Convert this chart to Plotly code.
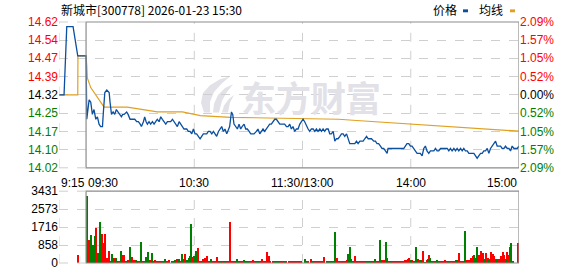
import plotly.graph_objects as go

# ---------------- data ----------------
prev_close = 14.32
pct_steps = [2.09, 1.57, 1.05, 0.52, 0.00, -0.52, -1.05, -1.57, -2.09]
price_ticks = ["14.62", "14.54", "14.47", "14.39", "14.32", "14.25", "14.17", "14.10", "14.02"]
vol_ticks = [0, 858, 1716, 2573, 3431]
time_labels = ["9:15", "09:30", "10:30", "11:30/13:00", "14:00", "15:00"]
time_minutes = [-15, 0, 60, 120, 180, 240]

# minutes relative to 09:30 (negative = call auction 9:15-9:30)
price_min = [-15, -12.2, -10.7, -7.2, -4.6, 0.0,
             0.4, 1.7, 2.6, 3.5, 4.4, 5.4, 6.3, 7.2, 8.1, 9.1, 9.6, 10.4, 11.5, 12.8, 13.3, 14.1,
             15.0, 15.9, 16.8, 17.7, 18.8, 19.6, 20.3, 21.1, 22.5, 23.3, 24.4, 25.7, 27.0, 28.1, 29.0,
             30.0, 30.7, 31.8, 32.5, 33.3, 34.0, 34.9, 35.8, 36.8, 37.7, 38.6, 39.5, 40.5, 41.4, 42.3,
             43.2, 44.2, 45.1, 46.0, 46.9, 47.9, 48.8, 49.7, 50.6, 51.6, 52.5, 53.4, 54.3, 55.8, 56.7,
             57.6, 58.6, 59.5, 60.4, 61.3, 62.3, 63.2, 64.1, 65.0, 66.0, 66.9, 67.8, 68.7, 69.7, 70.6,
             71.5, 72.4, 73.4, 74.3, 75.2, 76.1, 77.0, 78.0, 78.9, 79.6, 80.6, 81.3, 82.0, 82.8, 83.9,
             84.8, 85.7, 86.5, 87.6, 88.5, 89.4, 90.4, 91.3, 92.2, 93.1, 94.4, 95.3, 96.3, 97.2, 98.1,
             99.0, 99.9, 100.9, 101.8, 102.7, 103.7, 104.6, 105.5, 106.4, 107.4, 108.3, 109.2, 110.1,
             111.1, 112.0, 112.9, 113.8, 114.7, 115.7, 116.6, 117.5, 118.5, 119.4, 120.3, 121.2, 122.2,
             123.1, 124.0, 124.9, 125.9, 126.8, 127.7, 128.6, 129.6, 130.5, 131.4, 132.3, 133.2, 134.2,
             135.1, 136.0, 137.0, 137.9, 138.8, 139.7, 140.7, 141.6, 142.5, 143.4, 144.4, 145.3, 146.2,
             147.1, 148.1, 149.0, 149.9, 150.8, 151.8, 152.7, 153.6, 154.5, 155.5, 156.4, 157.3, 158.2,
             159.5, 160.4, 161.3, 162.2, 163.2, 164.1, 165.0, 165.9, 166.9, 167.4, 168.7, 170.5, 172.5,
             174.5, 176.1, 177.0, 177.9, 178.9, 179.8, 180.7, 181.6, 182.6, 183.5, 184.4, 185.3, 186.3,
             187.2, 188.1, 189.0, 190.0, 190.9, 191.8, 192.8, 193.7, 194.6, 195.5, 196.5, 197.4, 198.3,
             199.2, 200.2, 201.1, 202.0, 202.9, 203.9, 204.8, 205.7, 206.6, 207.6, 208.5, 209.4, 210.3,
             211.3, 212.2, 213.1, 214.0, 215.0, 215.9, 216.8, 217.7, 218.7, 219.6, 220.5, 221.4, 222.4,
             223.3, 224.2, 225.1, 226.1, 227.0, 227.9, 228.8, 229.8, 230.7, 231.6, 232.5, 233.5, 234.4,
             235.3, 236.2, 237.2, 238.1, 239.0, 240.0]
price_val = [14.32, 14.32, 14.60, 14.60, 14.48, 14.48,
             14.22, 14.30, 14.29, 14.24, 14.26, 14.22, 14.23, 14.20, 14.19, 14.19, 14.25, 14.33, 14.34, 14.33, 14.29, 14.24,
             14.25, 14.24, 14.26, 14.25, 14.24, 14.23, 14.24, 14.24, 14.25, 14.24, 14.22, 14.22, 14.22, 14.21, 14.21,
             14.20, 14.19, 14.21, 14.23, 14.21, 14.20, 14.21, 14.20, 14.21, 14.20, 14.21, 14.22, 14.21, 14.23, 14.22,
             14.21, 14.20, 14.21, 14.21, 14.21, 14.22, 14.21, 14.20, 14.19, 14.21, 14.20, 14.19, 14.18, 14.18, 14.17,
             14.17, 14.16, 14.18, 14.16, 14.16, 14.15, 14.14, 14.15, 14.16, 14.16, 14.16, 14.17, 14.17, 14.16, 14.17,
             14.16, 14.15, 14.17, 14.18, 14.19, 14.17, 14.18, 14.16, 14.18, 14.19, 14.25, 14.24, 14.20, 14.19, 14.18,
             14.20, 14.18, 14.19, 14.20, 14.18, 14.18, 14.17, 14.16, 14.16, 14.16, 14.17, 14.18, 14.16, 14.17, 14.18,
             14.17, 14.18, 14.19, 14.20, 14.20, 14.21, 14.22, 14.22, 14.21, 14.20, 14.20, 14.20, 14.20,
             14.19, 14.19, 14.20, 14.18, 14.19, 14.17, 14.18, 14.18, 14.20, 14.21, 14.22, 14.21, 14.19,
             14.18, 14.17, 14.18, 14.18, 14.17, 14.18, 14.17, 14.18, 14.17, 14.18, 14.17, 14.18, 14.18,
             14.16, 14.16, 14.17, 14.13, 14.14, 14.14, 14.15, 14.16, 14.16, 14.15, 14.16, 14.14, 14.12,
             14.12, 14.12, 14.12, 14.13, 14.12, 14.13, 14.13, 14.13, 14.14, 14.15, 14.14, 14.14, 14.14,
             14.13, 14.13, 14.12, 14.12, 14.11, 14.10, 14.10, 14.09, 14.08, 14.10, 14.10, 14.10, 14.10,
             14.10, 14.10, 14.11, 14.12, 14.12, 14.11, 14.11, 14.10, 14.09, 14.08, 14.08, 14.08, 14.07,
             14.10, 14.11, 14.09, 14.08, 14.09, 14.09, 14.09, 14.10, 14.09, 14.09, 14.10, 14.10, 14.10,
             14.10, 14.10, 14.09, 14.10, 14.09, 14.10, 14.09, 14.10, 14.09, 14.10, 14.09, 14.10, 14.09,
             14.09, 14.08, 14.08, 14.08, 14.08, 14.07, 14.06, 14.07, 14.08, 14.08, 14.09, 14.09, 14.10,
             14.08, 14.10, 14.11, 14.12, 14.13, 14.11, 14.11, 14.11, 14.10, 14.10, 14.11, 14.10, 14.10,
             14.09, 14.11, 14.10, 14.10, 14.10, 14.11]

avg_min = [-15, -4.6, -4.5, 0.0, 0.4, 0.7, 2.6, 4.4, 6.3, 8.1, 10.0, 22.9, 30.3, 39.5, 53.4, 59.7,
           63.4, 80, 100, 120, 140, 150, 160, 170, 180, 190, 200, 210, 220, 230, 240]
avg_val = [14.32, 14.32, 14.48, 14.48, 14.44, 14.39, 14.35, 14.33, 14.31, 14.29, 14.27, 14.27, 14.26,
           14.25, 14.25, 14.24, 14.235, 14.228, 14.226, 14.224, 14.22, 14.215, 14.21, 14.205, 14.20,
           14.195, 14.19, 14.185, 14.18, 14.175, 14.171]

vol_min = [-4.3, 0.7, 1.8, 2.9, 4.0, 4.7, 5.8, 6.7, 7.8, 8.9, 9.5, 10.6, 11.7, 12.8, 13.5, 14.4, 15.5,
           16.6, 17.7, 18.6, 19.3, 20.4, 21.3, 22.2, 23.2, 24.3, 25.4, 26.5, 27.6, 28.5, 29.4, 30.5,
           31.4, 32.3, 33.4, 34.1, 35.2, 36.3, 37.4, 38.5, 39.6, 40.7, 41.8, 42.9, 44.0, 45.1, 46.2,
           47.4, 48.5, 49.2, 50.3, 51.4, 52.5, 53.4, 54.5, 55.0, 56.1, 57.0, 57.6, 58.3, 59.0, 60.1,
           61.0, 62.1, 63.2, 64.3, 65.0, 66.1, 67.2, 68.3, 69.2, 70.3, 71.4, 72.4, 73.3, 74.4, 75.6,
           76.5, 77.6, 78.7, 79.6, 80.7, 81.7, 82.7, 83.6, 84.7, 85.6, 86.7, 87.6, 88.7, 89.8, 90.9,
           91.8, 92.5, 93.4, 94.5, 95.6, 96.5, 97.4, 98.3, 99.3, 100.4, 101.3, 102.2, 103.5, 104.4,
           105.5, 106.6, 107.7, 108.8, 109.9, 111.0, 112.5, 113.6, 114.7, 115.8, 116.9, 118.0, 119.0,
           121.6, 122.3, 123.2, 124.5, 125.6, 126.8, 127.9, 129.0, 130.1, 131.2, 132.1, 133.4, 134.3,
           135.3, 136.2, 137.1, 138.2, 139.3, 140.4, 141.3, 142.4, 143.4, 144.5, 145.4, 146.3, 147.1,
           148.2, 149.3, 150.4, 151.5, 152.6, 153.7, 154.8, 155.9, 157.1, 158.2, 159.3, 160.4, 161.5,
           162.2, 163.1, 164.2, 165.3, 166.5, 167.0, 168.1, 169.2, 170.3, 171.4, 172.6, 173.7, 174.8,
           175.9, 176.8, 177.7, 178.6, 179.2, 179.9, 180.9, 181.8, 183.1, 184.0, 185.1, 186.0, 186.9,
           188.0, 188.8, 189.3, 190.1, 190.8, 191.6, 192.5, 193.6, 194.4, 195.5, 196.6, 197.7, 198.8,
           199.9, 200.6, 201.7, 202.8, 203.9, 205.0, 205.8, 206.9, 207.8, 209.1, 210.2, 211.0, 211.9,
           212.8, 213.6, 214.3, 215.3, 216.0, 216.9, 218.0, 219.1, 219.9, 220.8, 221.8, 222.9, 223.6,
           224.5, 225.4, 226.4, 227.1, 228.0, 229.1, 230.1, 231.0, 231.9, 232.8, 233.5, 234.4, 235.0,
           235.8, 236.9, 239.5]
vol_val = [387, 3171, 1114, 1315, 851, 1268, 1671, 464, 1934, 1392, 928, 1361, 232, 588, 46, 418, 232,
           232, 62, 62, 588, 371, 371, 108, 155, 743, 263, 124, 139, 62, 46, 1005,
           93, 46, 263, 510, 155, 464, 46, 139, 46, 62, 62, 46, 170, 62, 124,
           46, 93, 155, 186, 186, 62, 433, 186, 433, 155, 232, 309, 1856, 278, 309,
           557, 696, 62, 77, 201, 232, 309, 77, 201, 46, 46, 263, 77, 93, 62,
           62, 62, 46, 1934, 46, 62, 62, 170, 93, 77, 46, 124, 46, 46, 46,
           46, 124, 46, 46, 62, 46, 186, 46, 46, 510, 309, 46, 46, 46,
           46, 46, 46, 46, 46, 46, 62, 62, 62, 62, 62, 62, 62,
           186, 62, 46, 186, 62, 46, 46, 46, 46, 46, 263, 46, 46,
           46, 46, 46, 1470, 217, 62, 46, 46, 62, 124, 418, 743, 186,
           46, 309, 46, 46, 46, 46, 62, 46, 93, 46, 62, 186, 46,
           62, 1114, 155, 155, 975, 217, 62, 46, 62, 93, 46, 46, 62,
           108, 139, 155, 201, 232, 155, 124, 46, 743, 201, 155, 155, 588,
           30, 155, 186, 387, 232, 77, 62, 46, 155, 62, 93, 46, 155,
           62, 93, 62, 93, 93, 124, 139, 464, 62, 62, 1516, 124, 155,
           155, 232, 309, 371, 232, 743, 387, 541, 464, 186, 464, 232, 201,
           495, 433, 309, 201, 201, 186, 309, 495, 387, 186, 495, 387, 773,
           928, 46, 928]
vol_dir = ["r", "g", "r", "g", "g", "g", "r", "g", "g", "r", "r", "r", "r", "r", "g", "g", "r",
           "g", "r", "r", "g", "r", "r", "g", "r", "g", "r", "r", "g", "r", "r", "g",
           "r", "g", "g", "g", "r", "g", "r", "r", "r", "r", "r", "g", "g", "r", "r",
           "g", "r", "g", "r", "g", "r", "g", "r", "r", "g", "g", "g", "g", "r", "g",
           "g", "r", "r", "g", "r", "r", "r", "r", "g", "r", "r", "r", "r", "g", "r",
           "g", "r", "r", "r", "r", "r", "r", "g", "g", "r", "r", "g", "g", "g", "r",
           "r", "r", "r", "g", "g", "r", "r", "r", "r", "r", "r", "r", "r", "g",
           "g", "g", "r", "r", "g", "r", "r", "r", "r", "r", "r", "r", "r",
           "g", "g", "r", "r", "g", "r", "r", "r", "r", "r", "r", "g", "g",
           "g", "g", "g", "g", "r", "r", "r", "r", "r", "r", "g", "g", "r",
           "g", "r", "r", "r", "r", "r", "r", "g", "g", "g", "r", "g", "r",
           "r", "g", "r", "r", "g", "r", "r", "g", "r", "r", "r", "r", "r",
           "r", "r", "r", "r", "r", "g", "r", "g", "g", "r", "g", "r", "r",
           "g", "r", "g", "r", "g", "g", "r", "r", "g", "g", "r", "r", "r",
           "r", "g", "r", "r", "r", "g", "g", "r", "r", "r", "g", "r", "r",
           "r", "r", "r", "g", "r", "g", "r", "r", "r", "g", "r", "r", "g",
           "r", "r", "r", "g", "g", "r", "r", "r", "r", "g", "r", "r", "r",
           "g", "g", "r"]

title_text = "新城市[300778] 2026-01-23 15:30"
legend_names = ["价格", "均线"]
watermark_text = "东方财富"

# ---------------- styling ----------------
RED = "#ff0000"
GREEN = "#008000"
BLUE = "#0a4fa0"
ORANGE = "#e0a020"
GRID = "#cfcfcf"
BORDER = "#8c8c8c"
WM = "#e1e1e7"
FONT = "Liberation Sans, Arial, sans-serif"
CJK = "Noto Sans CJK SC, sans-serif"

W, H = 578, 276
ML, MR, MT, MB = 59, 59, 22, 6
PW, PH = W - ML - MR, H - MT - MB


def px(x):  # pixel -> paper x
    return (x - ML) / PW


def py(y):  # pixel -> paper y
    return (H - MB - y) / PH


price_tickvals = [prev_close * (1 + p / 100) for p in pct_steps]
lo, hi = min(price_tickvals), max(price_tickvals)
xr = [time_minutes[0], time_minutes[-1]]


def col(p):
    return RED if p > 0 else (GREEN if p < 0 else "#000000")


left_text = [f"<span style='color:{col(p)}'>{t}</span>" for p, t in zip(pct_steps, price_ticks)]
right_text = [f"<span style='color:{col(p)}'>{abs(p):.2f}%</span>" for p in pct_steps]

fig = go.Figure()

# watermark text drawn first so that lines sit on top
fig.add_trace(go.Scatter(x=[xr[0] + 0.548 * (xr[1] - xr[0])], y=[lo + 0.445 * (hi - lo)],
                         mode="text", text=[f"<b>{watermark_text}</b>"],
                         textfont=dict(family=CJK, size=35, color=WM),
                         xaxis="x", yaxis="y", hoverinfo="skip"))
fig.add_trace(go.Scatter(x=avg_min, y=avg_val, mode="lines",
                         line=dict(color=ORANGE, width=1.2), xaxis="x", yaxis="y", hoverinfo="skip"))
fig.add_trace(go.Scatter(x=price_min, y=price_val, mode="lines",
                         line=dict(color=BLUE, width=1.3), xaxis="x", yaxis="y", hoverinfo="skip"))
fig.add_trace(go.Scatter(x=[0], y=[prev_close], mode="markers", marker=dict(opacity=0),
                         xaxis="x", yaxis="y2", hoverinfo="skip"))

for d, c in (("r", RED), ("g", GREEN)):
    xs = [m for m, dd in zip(vol_min, vol_dir) if dd == d]
    ys = [v for v, dd in zip(vol_val, vol_dir) if dd == d]
    fig.add_trace(go.Bar(x=xs, y=ys, marker=dict(color=c, line=dict(width=0)), width=0.6,
                         xaxis="x2", yaxis="y3", hoverinfo="skip"))

main_dom = [0.395, 1.0]
vol_dom = [0.0, 0.298]

fig.update_layout(
    width=W, height=H,
    margin=dict(l=ML, r=MR, t=MT, b=MB),
    paper_bgcolor="white", plot_bgcolor="white",
    showlegend=False, bargap=0,
    font=dict(family=FONT, size=12, color="#000"),
    xaxis=dict(domain=[0, 1], range=xr, showgrid=False, showticklabels=False, zeroline=False,
               anchor="y", fixedrange=True),
    xaxis2=dict(domain=[0, 1], range=xr, showgrid=False, showticklabels=False, zeroline=False,
                anchor="y3", matches="x"),
    yaxis=dict(domain=main_dom, range=[lo, hi], tickvals=price_tickvals, ticktext=left_text,
               showgrid=True, gridcolor=GRID, griddash="dash", gridwidth=1, zeroline=False,
               ticks="", tickfont=dict(size=12)),
    yaxis2=dict(domain=main_dom, range=[lo, hi], overlaying="y", side="right", anchor="x",
                tickvals=price_tickvals, ticktext=right_text, showgrid=False, zeroline=False,
                ticks="", tickfont=dict(size=12)),
    yaxis3=dict(domain=vol_dom, range=[vol_ticks[0], vol_ticks[-1]], tickvals=vol_ticks,
                ticktext=[str(v) for v in vol_ticks], showgrid=True, gridcolor=GRID, griddash="dash",
                zeroline=False, ticks="", tickfont=dict(size=12, color="#000"), anchor="x2"),
)

shapes = []
for yref in ("y domain", "y3 domain"):
    shapes.append(dict(type="rect", xref="x", yref=yref, x0=0, x1=xr[1], y0=0, y1=1,
                       line=dict(color=BORDER, width=1.2)))
    shapes.append(dict(type="line", xref="x", yref=yref, x0=xr[0], x1=xr[0], y0=0, y1=1,
                       line=dict(color=GRID, width=1, dash="dash")))
    for yy in (0, 1):
        shapes.append(dict(type="line", xref="x", yref=yref, x0=xr[0], x1=0, y0=yy, y1=yy,
                           line=dict(color=GRID, width=1, dash="dash")))
    for m in time_minutes[2:5]:
        shapes.append(dict(type="line", xref="x", yref=yref, x0=m, x1=m, y0=0, y1=1,
                           line=dict(color=GRID, width=1, dash="dash"), layer="below"))


def path(points):
    s = "M %.4f,%.4f" % (px(points[0][0]), py(points[0][1]))
    for a, b in points[1:]:
        s += " L %.4f,%.4f" % (px(a), py(b))
    return s + " Z"


# watermark logo (stylised flame strokes)
logo_strokes = [
    [(204, 115), (201, 105), (203, 95), (210, 87), (220, 81), (230, 78), (222, 85), (214, 94), (210, 104), (210, 115)],
    [(213, 115), (214, 106), (218, 97), (225, 90), (233, 86), (227, 94), (222, 103), (219, 115)],
    [(222, 115), (224, 108), (229, 101), (234, 97), (230, 105), (228, 115)],
]
for st in logo_strokes:
    shapes.append(dict(type="path", xref="paper", yref="paper", path=path(st),
                       fillcolor=WM, line=dict(width=0), layer="below"))

# legend swatches
shapes.append(dict(type="rect", xref="paper", yref="paper", x0=px(463), x1=px(468), y0=py(12), y1=py(9),
                   fillcolor=BLUE, line=dict(width=0)))
shapes.append(dict(type="rect", xref="paper", yref="paper", x0=px(510), x1=px(515), y0=py(12), y1=py(9),
                   fillcolor=ORANGE, line=dict(width=0)))
fig.update_layout(shapes=shapes)

ann = []
anchors = ["left", "left", "center", "center", "center", "right"]
for lab, m, a in zip(time_labels, time_minutes, anchors):
    ann.append(dict(x=m, y=0, xref="x", yref="y domain", text=lab, showarrow=False,
                    xanchor=a, yanchor="top", yshift=-6, font=dict(size=12, color="#000")))

ann.append(dict(x=0, y=1, xref="paper", yref="paper", xanchor="left", yanchor="bottom", yshift=2,
                text=title_text, showarrow=False, font=dict(family=CJK, size=12, color="#000")))
for name, xpix in zip(legend_names, (431, 477)):
    ann.append(dict(x=px(xpix), y=1, xref="paper", yref="paper", xanchor="left", yanchor="bottom",
                    yshift=2, text=name, showarrow=False, font=dict(family=CJK, size=12, color="#000")))
fig.update_layout(annotations=ann)

fig.write_html("out.html")
